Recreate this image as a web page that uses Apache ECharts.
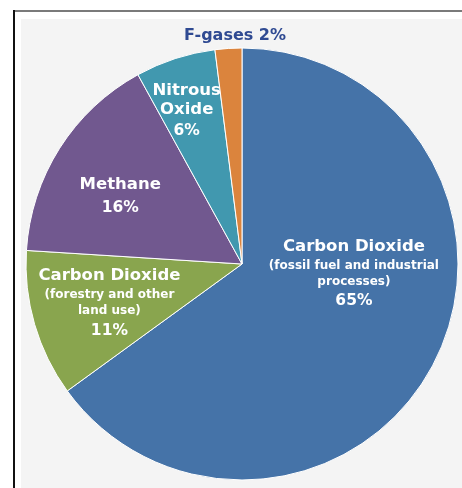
<!DOCTYPE html>
<html>
<head>
<meta charset="utf-8">
<style>
html,body{margin:0;padding:0;background:#fff;}
#chart{width:462px;height:488px;}
</style>
<script src="https://cdn.jsdelivr.net/npm/echarts@6/dist/echarts.min.js"></script>
</head>
<body>
<div id="chart"></div>
<script>
const categories = ['Carbon Dioxide', 'Carbon Dioxide', 'Methane', 'Nitrous Oxide', 'F-gases'];
const subtitles = ['(fossil fuel and industrial\nprocesses)', '(forestry and other\nland use)', '', '', ''];
const values = [65, 11, 16, 6, 2];
const colors = ['#4573A8', '#89A54E', '#71588F', '#4198AF', '#DB843D'];

const chart = echarts.init(document.getElementById('chart'), null, {renderer: 'canvas'});

const labelOffsets = [[13, -40], [-26, 9], [-28, -8], [-21, -46], [0, -117]];
const titleLines = ['Carbon Dioxide', 'Carbon Dioxide', 'Methane', 'Nitrous\nOxide', 'F-gases'];
const titleStyles = ['a', 'a', 'a', 'n', 'f'];

const data = values.map((v, i) => {
  let fmt;
  if (i === 4) {
    fmt = '{f|' + titleLines[i] + ' ' + v + '%}';
  } else {
    const st = titleStyles[i];
    const t = titleLines[i].split('\n').map(s => '{' + st + '|' + s + '}').join('\n');
    const s = subtitles[i] ? '\n' + subtitles[i].split('\n').map(x => '{b|' + x + '}').join('\n') : '';
    fmt = t + s + '\n{c|' + v + '%}';
  }
  return {
    name: categories[i] + (subtitles[i] ? ' ' + subtitles[i].replace('\n', ' ') : ''),
    value: v,
    itemStyle: {color: colors[i]},
    label: {formatter: fmt, offset: labelOffsets[i]}
  };
});

const ff = 'DejaVu Sans';
chart.setOption({
  backgroundColor: '#ffffff',
  animation: false,
  graphic: [
    {type: 'rect', shape: {x: 21, y: 19, width: 441, height: 469}, style: {fill: '#f4f4f4'}, z: -10},
    {type: 'rect', shape: {x: 13, y: 10, width: 449, height: 2}, style: {fill: '#7a7a7a'}, z: -5},
    {type: 'rect', shape: {x: 13, y: 10, width: 2, height: 478}, style: {fill: '#111111'}, z: -5}
  ],
  series: [{
    type: 'pie',
    center: [242, 264],
    radius: [0, 216],
    startAngle: 90,
    clockwise: true,
    avoidLabelOverlap: false,
    itemStyle: {borderColor: '#ffffff', borderWidth: 1},
    label: {
      show: true,
      position: 'inside',
      color: '#ffffff',
      fontFamily: ff,
      fontWeight: 'bold',
      align: 'center',
      rich: {
        a: {fontSize: 16.5, fontWeight: 'bold', color: '#fff', fontFamily: ff, lineHeight: 22, align: 'center'},
        n: {fontSize: 16.5, fontWeight: 'bold', color: '#fff', fontFamily: ff, lineHeight: 19, align: 'center'},
        b: {fontSize: 12, fontWeight: 'bold', color: '#fff', fontFamily: ff, lineHeight: 16, align: 'center'},
        c: {fontSize: 15.5, fontWeight: 'bold', color: '#fff', fontFamily: ff, lineHeight: 24, align: 'center'},
        f: {fontSize: 16, fontWeight: 'bold', color: '#2F4A92', fontFamily: ff, align: 'center'}
      }
    },
    labelLine: {show: false},
    emphasis: {disabled: true},
    data: data
  }]
});
</script>
</body>
</html>
